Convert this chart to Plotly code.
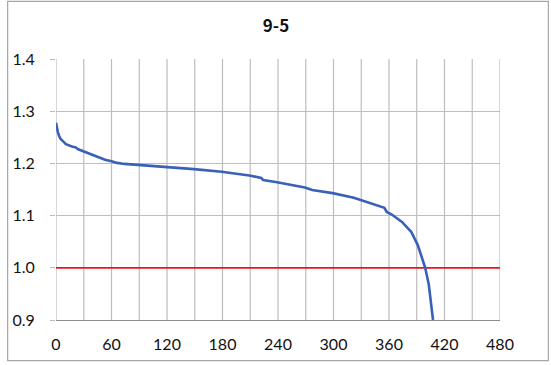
import plotly.graph_objects as go

time_min = [0, 1, 2, 3.5, 5, 7.2, 10.7, 17.8, 21, 24, 28.5, 33, 39, 44, 53, 60, 66, 74, 89,
            119, 149, 179, 209, 222, 224, 239, 269, 277, 299, 322, 344, 355, 357.6, 363,
            374, 384, 391, 397, 399, 403, 405.6, 407.6]
voltage = [1.278, 1.268, 1.260, 1.252, 1.247, 1.243, 1.237, 1.232, 1.231, 1.227, 1.224, 1.221,
           1.217, 1.213, 1.207, 1.204, 1.201, 1.199, 1.197, 1.194, 1.189, 1.184, 1.177, 1.172,
           1.168, 1.164, 1.154, 1.149, 1.143, 1.134, 1.122, 1.115, 1.107, 1.102, 1.088, 1.069,
           1.044, 1.012, 1.001, 0.968, 0.930, 0.9]
cutoff_x = [0, 480]
cutoff_y = [1.0, 1.0]
title_text = "9-5"
x_ticks = [0, 60, 120, 180, 240, 300, 360, 420, 480]
y_ticks = [0.9, 1.0, 1.1, 1.2, 1.3, 1.4]

L, R, T, B = 50, 51, 59, 43
W, H = 551, 365
pw, ph = W - L - R, H - T - B
GRID = "#bdbdbd"

fig = go.Figure()
fig.add_trace(go.Scatter(x=cutoff_x, y=cutoff_y, mode="lines",
                         line=dict(color="#e8161b", width=1.8), hoverinfo="skip"))
fig.add_trace(go.Scatter(x=time_min, y=voltage, mode="lines",
                         line=dict(color="#3a60b8", width=2.6)))

fig.update_layout(
    width=W, height=H,
    margin=dict(l=L, r=R, t=T, b=B),
    paper_bgcolor="white", plot_bgcolor="white",
    showlegend=False,
    title=dict(text="<b>" + title_text + "</b>", x=(L + 226) / W, xanchor="center",
               y=1 - 26 / H, yanchor="middle",
               font=dict(family="Noto Sans CJK JP", size=17, color="#111")),
    xaxis=dict(range=[0, 480], tickvals=x_ticks, ticktext=[str(v) for v in x_ticks],
               showgrid=False, zeroline=False,
               showline=True, linecolor="#8c8c8c", linewidth=1.2,
               tickfont=dict(family="Lato", size=16, color="#111"),
               ticks="outside", ticklen=10, tickcolor="rgba(0,0,0,0)"),
    yaxis=dict(range=[0.9, 1.4], tickvals=y_ticks, ticktext=["%.1f" % v for v in y_ticks],
               showgrid=True, gridcolor=GRID, gridwidth=1.2, zeroline=False,
               showline=False, ticks="outside", ticklen=5, tickcolor=GRID, tickwidth=1.2,
               ticklabelstandoff=12,
               tickfont=dict(family="Lato", size=16, color="#111")),
)

# vertical gridlines every 30 minutes
for gx in range(0, 481, 30):
    fig.add_shape(type="line", xref="x", yref="paper", x0=gx, x1=gx, y0=0, y1=1,
                  line=dict(color=GRID, width=1.2), layer="below")

# outer border of the figure
fig.add_shape(type="rect", xref="paper", yref="paper",
              x0=(1 - L) / pw, x1=(W - 2 - L) / pw,
              y0=(H - B - (H - 2)) / ph, y1=(H - B - 1) / ph,
              line=dict(color="#a6a6a6", width=1.2))

fig.write_html("out.html", config={"displayModeBar": False},
               post_script="document.body.style.margin='0';document.body.style.overflow='hidden';")
